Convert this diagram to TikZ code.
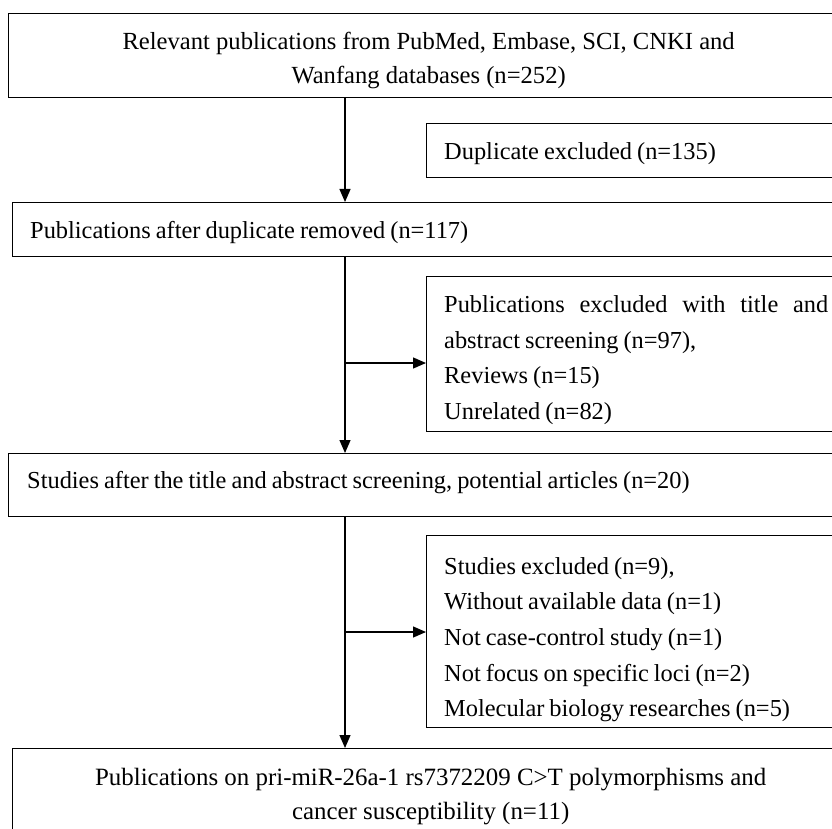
\documentclass[tikz,border=0pt]{standalone}
\usepackage{fontspec}
\setmainfont{Liberation Serif}
\usetikzlibrary{arrows.meta}
\newcommand\mytightsp{\spaceskip=0.205em\relax}
\begin{document}
\begin{tikzpicture}[x=1pt,y=-1pt,
  box/.style={draw=black,line width=1.3pt,anchor=north west,inner sep=0pt},
  bigtxt/.style={inner sep=0pt,align=center,font=\fontsize{24.9}{34.5}\selectfont},
  smalltxt/.style={inner sep=0pt,align=left,anchor=west,
    font=\fontsize{24.4}{35.6}\selectfont,execute at begin node=\mytightsp},
  arr/.style={line width=1.3pt,-{Triangle[length=13pt,width=11pt]}}]
\useasboundingbox (0,0) rectangle (832,829);
\clip (0,0) rectangle (832,829);
% boxes
\node[box,minimum width=840pt,minimum height=84pt] (b1) at (8,13) {};
\node[box,minimum width=420pt,minimum height=54pt] (dup) at (426,123) {};
\node[box,minimum width=836pt,minimum height=54pt] (b2) at (12,202) {};
\node[box,minimum width=420pt,minimum height=155pt] (excl1) at (426,276) {};
\node[box,minimum width=840pt,minimum height=63pt] (b3) at (8,453) {};
\node[box,minimum width=420pt,minimum height=192pt] (excl2) at (426,535) {};
\node[box,minimum width=836pt,minimum height=92pt] (b4) at (12,748) {};
% texts
\node[bigtxt,font=\fontsize{24.6}{34.5}\selectfont,yshift=-5pt] (t1) at (b1.center)
  {Relevant publications from PubMed, Embase, SCI, CNKI and\\Wanfang databases (n=252)};
\node[smalltxt,yshift=-3pt] (tdup) at ([xshift=18pt]dup.west) {Duplicate excluded (n=135)};
\node[smalltxt,yshift=-3pt] (t2) at ([xshift=18pt]b2.west) {Publications after duplicate removed (n=117)};
\node[smalltxt,yshift=-6pt] (te1) at ([xshift=18pt]excl1.west)
  {\makebox[384pt][l]{Publications\hfill excluded\hfill with\hfill title\hfill and}\\abstract screening (n=97),\\Reviews (n=15)\\Unrelated (n=82)};
\node[smalltxt,yshift=3pt] (t3) at ([xshift=19pt]b3.west)
  {Studies after the title and abstract screening, potential articles (n=20)};
\node[smalltxt,yshift=-8pt] (te2) at ([xshift=18pt]excl2.west)
  {Studies excluded (n=9),\\Without available data (n=1)\\Not case-control study (n=1)\\Not focus on specific loci (n=2)\\Molecular biology researches (n=5)};
\node[bigtxt,yshift=-2pt] (t4) at (b4.center)
  {Publications on pri-miR-26a-1 rs7372209 C>T polymorphisms and\\cancer susceptibility (n=11)};
% connectors
\coordinate (s) at (345,0);
\draw[arr] (b1.south -| s) -- (b2.north -| s);
\draw[arr] (b2.south -| s) -- (b3.north -| s);
\draw[arr] (b3.south -| s) -- (b4.north -| s);
\coordinate (j1) at (345,363);
\draw[arr] (j1) -- (j1 -| excl1.west);
\coordinate (j2) at (345,632);
\draw[arr] (j2) -- (j2 -| excl2.west);
\end{tikzpicture}
\end{document}
